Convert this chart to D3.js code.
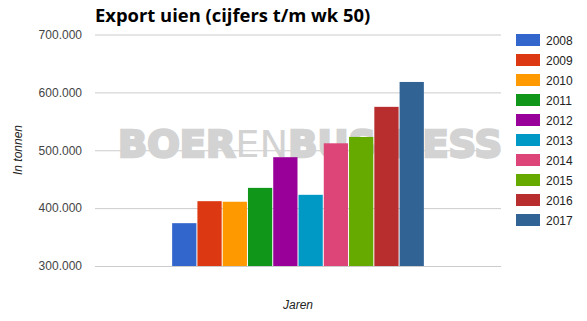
<!DOCTYPE html>
<html>
<head>
<meta charset="utf-8">
<script src="https://cdn.jsdelivr.net/npm/d3@7"></script>
<style>
    body { margin: 0; background: #fff; }
    svg { display: block; }
    .tick text { font-family: "Liberation Sans", Arial, sans-serif; font-size: 12px; fill: #444; }
    .legend text { font-family: "Liberation Sans", Arial, sans-serif; font-size: 12px; fill: #222; }
    .axis-title { font-family: "Liberation Sans", Arial, sans-serif; font-size: 12px; font-style: italic; fill: #222; }
</style>
</head>
<body>
<svg id="chart"></svg>
<script>
const width = 587;
const height = 321;

const years = ['2008', '2009', '2010', '2011', '2012', '2013', '2014', '2015', '2016', '2017'];
const exportValues = [374000, 412000, 411000, 435000, 488000, 423000, 512000, 523000, 575000, 618000];
const yTicks = [300000, 400000, 500000, 600000, 700000];
const colors = ['#3366cc', '#dc3912', '#ff9900', '#109618', '#990099',
    '#0099c6', '#dd4477', '#66aa00', '#b82e2e', '#316395'];

const margin = {top: 35, right: 86, bottom: 55, left: 95};
const plotW = width - margin.left - margin.right;

const svg = d3.select('#chart')
    .attr('width', width)
    .attr('height', height);

const y = d3.scaleLinear()
    .domain([300000, 700000])
    .range([266, 34.5]);

const x = d3.scaleBand()
    .domain(years)
    .range([margin.left + plotW * 0.19, margin.left + plotW * 0.81])
    .paddingInner(0.04);

const fmt = d => d3.format(',')(d).replace(/,/g, '.');

// gridlines + tick labels
const yAxis = svg.append('g')
    .attr('transform', `translate(${margin.left},0)`)
    .call(d3.axisLeft(y).tickValues(yTicks).tickSize(-plotW).tickPadding(13).tickFormat(fmt));
yAxis.select('.domain').remove();
yAxis.selectAll('.tick line').attr('stroke', '#cccccc');

// watermark
const wm = svg.append('text')
    .attr('x', 118)
    .attr('y', 157)
    .attr('textLength', 384)
    .attr('lengthAdjust', 'spacingAndGlyphs')
    .style('font-family', '"DejaVu Sans", sans-serif')
    .style('font-size', '37px')
    .style('fill', '#d3d3d3');
wm.append('tspan').style('font-weight', 'bold').style('stroke', '#d3d3d3').style('stroke-width', 2.5).text('BOER');
wm.append('tspan').style('font-weight', 'normal').text('EN');
wm.append('tspan').style('font-weight', 'bold').style('stroke', '#d3d3d3').style('stroke-width', 2.5).text('BUSINESS');

// bars
svg.selectAll('rect.bar')
    .data(exportValues)
    .enter().append('rect')
    .classed('bar', true)
    .attr('x', (_, i) => x(years[i]))
    .attr('y', d => y(d))
    .attr('width', x.bandwidth())
    .attr('height', d => y(300000) - y(d))
    .style('fill', (_, i) => colors[i]);

// title
svg.append('text')
    .attr('x', 95)
    .attr('y', 22)
    .style('font-family', '"Open Sans", sans-serif')
    .style('font-weight', 'bold')
    .style('font-size', '18.4px')
    .style('fill', '#000')
    .text('Export uien (cijfers t/m wk 50)');

// axis titles
svg.append('text')
    .classed('axis-title', true)
    .attr('transform', 'translate(22,150) rotate(-90)')
    .attr('text-anchor', 'middle')
    .text('In tonnen');
svg.append('text')
    .classed('axis-title', true)
    .attr('x', 298)
    .attr('y', 309)
    .attr('text-anchor', 'middle')
    .text('Jaren');

// legend
const legend = svg.append('g')
    .classed('legend', true)
    .attr('transform', 'translate(516,34)');
const item = legend.selectAll('g')
    .data(years)
    .enter().append('g')
    .attr('transform', (_, i) => `translate(0,${i * 20})`);
item.append('rect')
    .attr('width', 24)
    .attr('height', 12)
    .style('fill', (_, i) => colors[i]);
item.append('text')
    .attr('x', 30)
    .attr('y', 10.5)
    .text(d => d);
</script>
</body>
</html>
